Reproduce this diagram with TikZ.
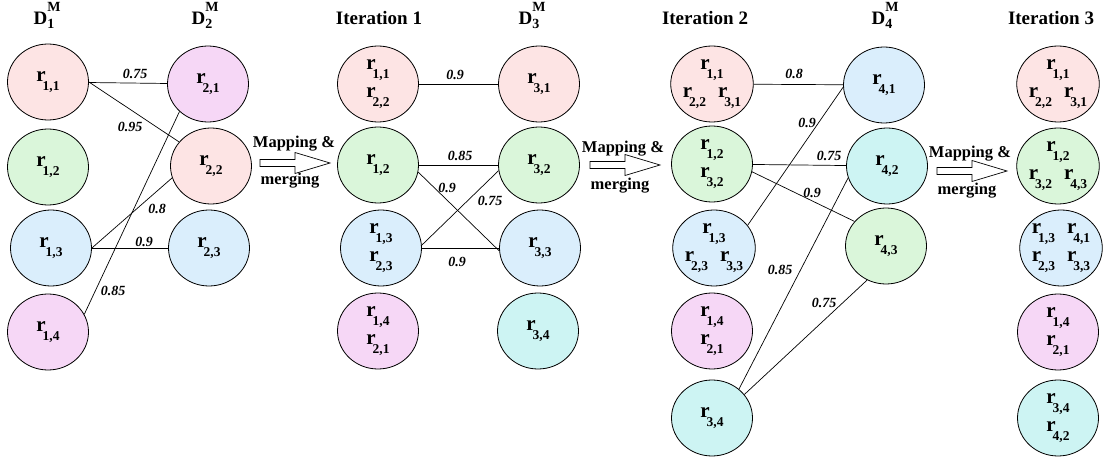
\documentclass[tikz,border=0pt]{standalone}
\usepackage{fontspec}
\setmainfont{Liberation Serif}
\usetikzlibrary{shapes.geometric}
\definecolor{cpink}{RGB}{253,228,228}
\definecolor{cgreen}{RGB}{218,246,218}
\definecolor{cblue}{RGB}{218,238,252}
\definecolor{cmag}{RGB}{246,215,246}
\definecolor{ccyan}{RGB}{205,244,243}
\newcommand\rr[1]{r\kern-3pt\raisebox{-9.2pt}{\fontsize{13.5}{13.5}\selectfont #1}}
\newcommand\Dm[1]{D\rlap{\raisebox{13pt}{\fontsize{14}{14}\selectfont M}}\raisebox{-4pt}{\fontsize{14}{14}\selectfont #1}}
\newcommand\blockarrow[2]{\draw[blk] (#1,#2-3.5) -- (#1+35,#2-3.5) -- (#1+35,#2-10.5) -- (#1+70,#2) -- (#1+35,#2+10.5) -- (#1+35,#2+3.5) -- (#1,#2+3.5) -- cycle;}
\begin{document}
\begin{tikzpicture}[x=1pt,y=-1pt,
 ell/.style={ellipse, draw, line width=0.8pt, minimum width=81pt, minimum height=76pt, inner sep=0pt, align=center, font=\fontsize{21}{28}\selectfont\bfseries},
 hdr/.style={anchor=base, font=\fontsize{19}{20}\selectfont\bfseries, inner sep=0pt},
 wt/.style={font=\fontsize{14}{14}\selectfont\bfseries\itshape, inner sep=0pt},
 lbl/.style={anchor=base, font=\fontsize{16.5}{18}\selectfont\bfseries, inner sep=0pt},
 con/.style={line width=0.7pt},
 blk/.style={draw, fill=white, line width=0.7pt}]
\useasboundingbox (0,0) rectangle (1105,462);
% headers
\node[hdr] (h1) at (44,25) {\Dm{1}};
\node[hdr] (h2) at (202,25) {\Dm{2}};
\node[hdr] (h3) at (379,25) {Iteration 1};
\node[hdr] (h4) at (529,25) {\Dm{3}};
\node[hdr] (h5) at (705,25) {Iteration 2};
\node[hdr] (h6) at (882,25) {\Dm{4}};
\node[hdr] (h7) at (1051,25) {Iteration 3};
% D1
\node[ell, fill=cpink] (r11) at (48,82) {\rr{1,1}};
\node[ell, fill=cgreen] (r12) at (48,167) {\rr{1,2}};
\node[ell, fill=cblue] (r13) at (51,248) {\rr{1,3}};
\node[ell, fill=cmag] (r14) at (48,332) {\rr{1,4}};
% D2
\node[ell, fill=cmag] (r21) at (208,84) {\rr{2,1}};
\node[ell, fill=cpink] (r22) at (211,166) {\rr{2,2}};
\node[ell, fill=cblue] (r23) at (209,248) {\rr{2,3}};
% Iteration 1
\node[ell, fill=cpink] (Ia) at (378,84) {\rr{1,1}\\\rr{2,2}};
\node[ell, fill=cgreen] (Ib) at (378,165) {\rr{1,2}};
\node[ell, fill=cblue] (Ic) at (381,248) {\rr{1,3}\\\rr{2,3}};
\node[ell, fill=cmag] (Id) at (378,331) {\rr{1,4}\\\rr{2,1}};
% D3
\node[ell, fill=cpink] (r31) at (539,84) {\rr{3,1}};
\node[ell, fill=cgreen] (r32) at (539,165) {\rr{3,2}};
\node[ell, fill=cblue] (r33) at (540,248) {\rr{3,3}};
\node[ell, fill=ccyan] (r34) at (538,331) {\rr{3,4}};
% Iteration 2
\node[ell, fill=cpink] (IIa) at (712,84) {\rr{1,1}\\\rr{2,2}\hspace{12pt}\rr{3,1}};
\node[ell, fill=cgreen] (IIb) at (712,164) {\rr{1,2}\\\rr{3,2}};
\node[ell, fill=cblue] (IIc) at (714,248) {\rr{1,3}\\\rr{2,3}\hspace{12pt}\rr{3,3}};
\node[ell, fill=cmag] (IId) at (712,331) {\rr{1,4}\\\rr{2,1}};
\node[ell, fill=ccyan] (IIe) at (712,418) {\rr{3,4}};
% D4
\node[ell, fill=cblue] (r41) at (884,85) {\rr{4,1}};
\node[ell, fill=ccyan] (r42) at (887,166) {\rr{4,2}};
\node[ell, fill=cgreen] (r43) at (886,246) {\rr{4,3}};
% Iteration 3
\node[ell, fill=cpink] (IIIa) at (1058,84) {\rr{1,1}\\\rr{2,2}\hspace{12pt}\rr{3,1}};
\node[ell, fill=cgreen] (IIIb) at (1058,166) {\rr{1,2}\\\rr{3,2}\hspace{12pt}\rr{4,3}};
\node[ell, fill=cblue] (IIIc) at (1061,248) {\rr{1,3}\hspace{12pt}\rr{4,1}\\\rr{2,3}\hspace{12pt}\rr{3,3}};
\node[ell, fill=cmag] (IIId) at (1058,332) {\rr{1,4}\\\rr{2,1}};
\node[ell, fill=ccyan] (IIIe) at (1058,418) {\rr{3,4}\\\rr{4,2}};
% mapping arrows
\node[lbl] (m1a) at (294,148) {Mapping \&};
\node[lbl] (m1b) at (290,185) {merging};
\blockarrow{260}{163}
\node[lbl] (m2a) at (623,153) {Mapping \&};
\node[lbl] (m2b) at (620,190) {merging};
\blockarrow{590}{165}
\node[lbl] (m3a) at (970,158) {Mapping \&};
\node[lbl] (m3b) at (967,195) {merging};
\blockarrow{937}{171}
% stage 1 connectors
\draw[con] (r11) -- (r21);
\draw[con] (r11.east) -- (r22.143);
\draw[con] (r13.east) -- (r22.197);
\draw[con] (r13) -- (r23);
\draw[con] (r14.26) -- (r21.224);
\node[wt] (w1) at (135,74) {0.75};
\node[wt] (w2) at (130,127) {0.95};
\node[wt] (w3) at (157,209) {0.8};
\node[wt] (w4) at (144,242) {0.9};
\node[wt] (w5) at (113,291) {0.85};
% stage 2 connectors
\draw[con] (Ia) -- (r31);
\draw[con] (Ib) -- (r32);
\draw[con] (Ib.-10) -- (r33.184);
\draw[con] (Ic.4) -- (r32.188);
\draw[con] (Ic) -- (r33);
\node[wt] (w6) at (455,75) {0.9};
\node[wt] (w7) at (460,156) {0.85};
\node[wt] (w8) at (447,188) {0.9};
\node[wt] (w9) at (490,201) {0.75};
\node[wt] (w10) at (457,262) {0.9};
% stage 3 connectors
\draw[con] (IIa) -- (r41);
\draw[con] (IIc.34) -- (r41.183);
\draw[con] (IIb) -- (r42);
\draw[con] (IIb.-11) -- (r43.142);
\draw[con] (IIe.47) -- (r42.197);
\draw[con] (IIe.36) -- (r43.241);
\node[wt] (w11) at (794,74) {0.8};
\node[wt] (w12) at (807,123) {0.9};
\node[wt] (w13) at (829,156) {0.75};
\node[wt] (w14) at (812,193) {0.9};
\node[wt] (w15) at (780,270) {0.85};
\node[wt] (w16) at (824,303) {0.75};
\end{tikzpicture}
\end{document}
